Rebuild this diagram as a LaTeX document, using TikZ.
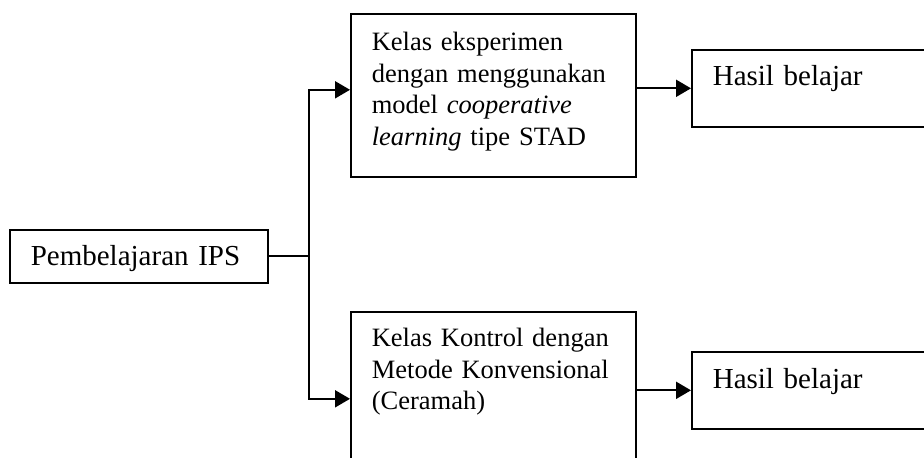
\documentclass[tikz,border=0pt]{standalone}
\usepackage{fontspec}
\setmainfont{Liberation Serif}
\usetikzlibrary{positioning,calc,arrows.meta}

\begin{document}
\begin{tikzpicture}[x=0.5pt, y=-0.5pt,
    box/.style={draw, line width=0.8pt, anchor=north west, align=left, inner xsep=10.5pt, inner ysep=0pt},
    smalltext/.style={font=\fontsize{13.25}{15.7}\selectfont},
    bigtext/.style={font=\fontsize{14.5}{17}\selectfont},
    link/.style={line width=1pt},
    arrow/.style={link, -{Triangle[length=7.5pt, width=8.5pt]}}]

    % Page frame
    \useasboundingbox (0,0) rectangle (924,457);
    \clip (0,0) rectangle (924,457);

    % Input box
    \node[box, bigtext, text width=108pt, text height=18pt, text depth=8.5pt] (ips) at (9,229) {Pembelajaran IPS};

    % Experiment and control classes
    \node[box, smalltext, text width=121.5pt, text height=18.5pt, text depth=63pt] (exp) at (350,13)
        {Kelas eksperimen\\ dengan menggunakan\\ model \textit{cooperative}\\ \textit{learning} tipe STAD};
    \node[box, smalltext, text width=121.5pt, text height=17.5pt, text depth=77pt] (ctrl) at (350,311)
        {Kelas Kontrol dengan\\ Metode Konvensional\\ (Ceramah)};

    % Outcome boxes
    \node[box, bigtext, text width=113.5pt, text height=18pt, text depth=20.5pt] (hasilA) at (691,49) {Hasil belajar};
    \node[box, bigtext, text width=113.5pt, text height=18.5pt, text depth=20pt] (hasilB) at (691,351) {Hasil belajar};

    % Branch point
    \coordinate (split) at ($(ips.east)+(40,0)$);

    % Connections
    \draw[link] (ips.east) -- (split);
    \draw[arrow] (split) |- ([yshift=2.75pt]exp.west);
    \draw[arrow] (split) |- ([yshift=3.75pt]ctrl.west);
    \draw[arrow] (exp.east |- hasilA.west) -- (hasilA.west);
    \draw[arrow] (ctrl.east |- hasilB.west) -- (hasilB.west);
\end{tikzpicture}
\end{document}
